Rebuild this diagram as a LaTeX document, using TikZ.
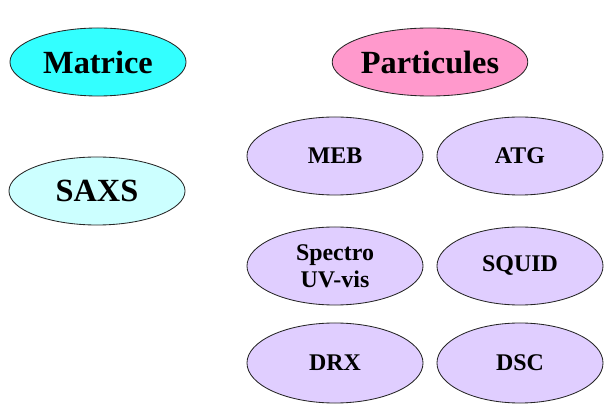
\documentclass[tikz,border=0pt]{standalone}
\usepackage{fontspec}
\setmainfont{Liberation Serif}
\usetikzlibrary{shapes.geometric}
\definecolor{ciano}{RGB}{51,255,255}
\definecolor{cianochiaro}{RGB}{204,255,255}
\definecolor{rosa}{RGB}{255,153,204}
\definecolor{lilla}{RGB}{224,206,255}
\begin{document}
\begin{tikzpicture}[x=0.025cm,y=-0.025cm,
    bolla/.style={ellipse,draw=black!85,line width=0.6pt,inner sep=0pt,
        align=center,font=\bfseries},
    grande/.style={bolla,minimum width=4.4cm,minimum height=1.7cm,
        font=\fontsize{23}{26}\selectfont\bfseries},
    piccola/.style={bolla,fill=lilla,minimum width=4.4cm,minimum height=1.95cm,
        font=\fontsize{17}{19}\selectfont\bfseries}]
        \useasboundingbox (0,0) rectangle (605,405);
        %titoli
        \node[grande,fill=ciano] (matrice) at (98,62) {Matrice};
        \node[grande,fill=rosa] (particule) at (430,62) {Particules};
        \node[grande,fill=cianochiaro] (saxs) at (97,191) {SAXS};
        %tecniche
        \node[piccola] (meb) at (335,156) {MEB};
        \node[piccola,minimum width=4.15cm] (atg) at (520,156) {ATG};
        \node[piccola] (spectro) at (335,266) {Spectro\\UV-vis};
        \node[piccola,minimum width=4.15cm] (squid) at (520,266) {SQUID};
        \node[piccola,minimum height=2cm] (drx) at (335,363) {DRX};
        \node[piccola,minimum width=4.15cm,minimum height=2cm] (dsc) at (520,363) {DSC};
\end{tikzpicture}
\end{document}
